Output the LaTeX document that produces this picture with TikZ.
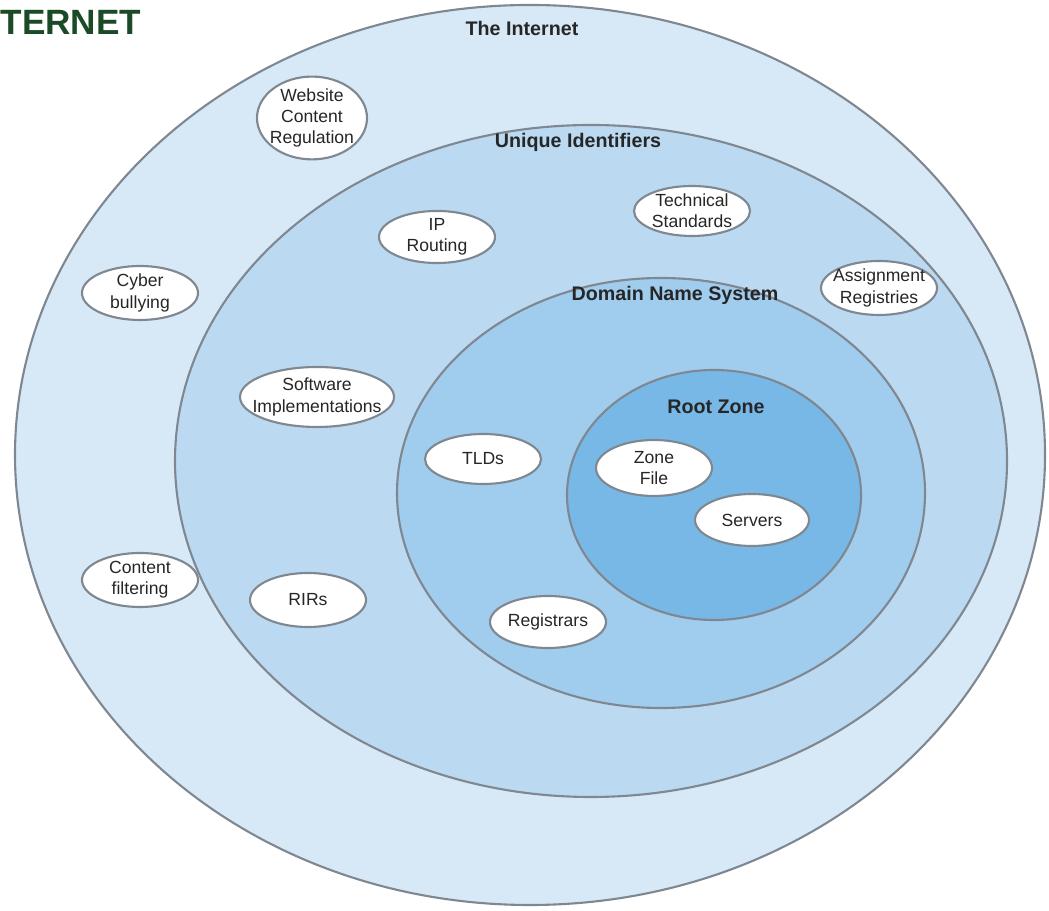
\documentclass[tikz,border=0pt]{standalone}
\usepackage{fontspec}
\setmainfont{Liberation Sans}
\usetikzlibrary{shapes.geometric}
\definecolor{ringA}{HTML}{D7E9F7}
\definecolor{ringB}{HTML}{BBDAF2}
\definecolor{ringC}{HTML}{A0CCEE}
\definecolor{ringD}{HTML}{78B8E6}
\definecolor{rimgray}{HTML}{7F8790}
\definecolor{titlegreen}{HTML}{1B4A27}

\begin{document}
\begin{tikzpicture}[
  ring/.style={draw=rimgray,line width=0.6pt},
  zonelabel/.style={font=\fontsize{5.6}{6.5}\selectfont\bfseries,text=black!85},
  topic/.style={ellipse,draw=rimgray,line width=0.6pt,fill=white,inner xsep=-3pt,inner ysep=0pt,
    align=center,font=\fontsize{5}{6}\selectfont,text=black!85}]
\useasboundingbox (0,0) rectangle (10.49,9.10);
%\draw [help lines] (0,0) grid (10,9);
\draw [ring,fill=ringA] (5.30,4.55) ellipse [x radius=5.15,y radius=4.50];
\draw [ring,fill=ringB] (5.91,4.49) ellipse [x radius=4.16,y radius=3.36];
\draw [ring,fill=ringC] (6.61,4.17) ellipse [x radius=2.64,y radius=2.15];
\draw [ring,fill=ringD] (7.14,4.15) ellipse [x radius=1.47,y radius=1.25];
\node (title) [anchor=west,inner sep=0pt,text=titlegreen,font=\fontsize{10}{12}\selectfont\bfseries] at (0,8.88) {TERNET};
\node (inet) [zonelabel] at (5.22,8.82) {The Internet}; \node (uid) [zonelabel] at (5.78,7.68) {Unique Identifiers};
\node (dns) [zonelabel] at (6.75,6.15) {Domain Name System}; \node (root) [zonelabel] at (7.16,5.03) {Root Zone};
% outer ring
\node (web) [topic,minimum width=1.10cm,minimum height=0.76cm] at (3.12,7.92) {Website\\Content\\Regulation};
\node (cyber) [topic,minimum width=1.16cm,minimum height=0.54cm] at (1.40,6.17) {Cyber\\bullying};
\node (filter) [topic,minimum width=1.16cm,minimum height=0.54cm] at (1.40,3.30) {Content\\filtering};
% unique identifiers
\node (ip) [topic,minimum width=1.16cm,minimum height=0.52cm] at (4.37,6.73) {IP\\Routing};
\node (tech) [topic,minimum width=1.16cm,minimum height=0.50cm] at (6.92,6.99) {Technical\\Standards};
\node (assign) [topic,minimum width=1.16cm,minimum height=0.54cm] at (8.79,6.22) {Assignment\\Registries};
\node (soft) [topic,minimum width=1.54cm,minimum height=0.60cm] at (3.17,5.13) {Software\\Implementations};
\node (rir) [topic,minimum width=1.16cm,minimum height=0.54cm] at (3.08,3.10) {RIRs};
% domain name system
\node (tld) [topic,minimum width=1.16cm,minimum height=0.50cm] at (4.83,4.51) {TLDs};
\node (reg) [topic,minimum width=1.16cm,minimum height=0.52cm] at (5.48,2.88) {Registrars};
% root zone
\node (zone) [topic,minimum width=1.16cm,minimum height=0.56cm] at (6.54,4.42) {Zone\\File};
\node (serv) [topic,minimum width=1.14cm,minimum height=0.52cm] at (7.52,3.90) {Servers};
\end{tikzpicture}
\end{document}
